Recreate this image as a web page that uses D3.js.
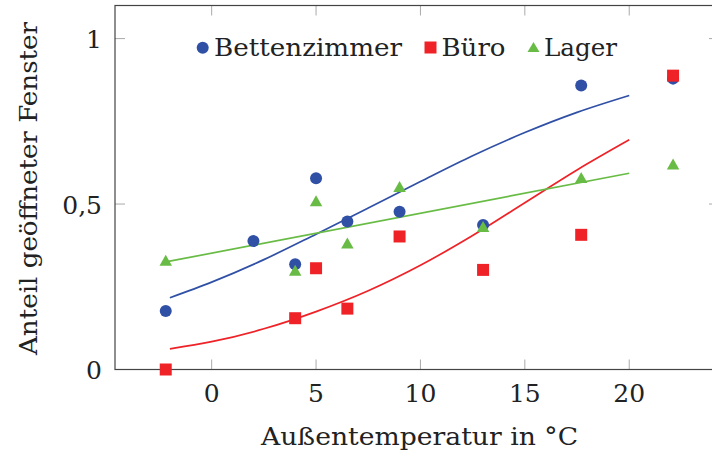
<!DOCTYPE html>
<html>
<head>
<meta charset="utf-8">
<script src="https://cdn.jsdelivr.net/npm/d3@7"></script>
<style>
  html, body { margin: 0; padding: 0; background: #fff; }
  svg { display: block; }
  text { fill: #222; }
</style>
</head>
<body>
<svg id="chart" width="712" height="451"></svg>
<script>
// ---- data ----
const temps = [-2.2, 2, 4, 5, 6.5, 9, 13, 17.7, 22.1];
const tempsNo2 = [-2.2, 4, 5, 6.5, 9, 13, 17.7, 22.1];
const bettenzimmer = [0.177, 0.388, 0.318, 0.578, 0.447, 0.477, 0.437, 0.858, 0.879];
const buero = [0.0, 0.155, 0.306, 0.184, 0.402, 0.301, 0.407, 0.888];
const lager = [0.33, 0.30, 0.51, 0.382, 0.553, 0.432, 0.58, 0.621];

const fitX = [-2, 0, 2.5, 5, 7.5, 10, 12.5, 15, 17.5, 20];
const bettenFit = [0.217, 0.264, 0.332, 0.409, 0.488, 0.568, 0.646, 0.716, 0.777, 0.828];
const bueroFit = [0.0625, 0.084, 0.123, 0.175, 0.238, 0.315, 0.405, 0.504, 0.603, 0.694];
const lagerFitX = [-2.2, 20];
const lagerFit = [0.325, 0.593];

const xTicks = [0, 5, 10, 15, 20];
const yTicks = [0, 0.5, 1];
const yTickLabels = ["0", "0,5", "1"];
const seriesNames = ["Bettenzimmer", "Büro", "Lager"];
const colors = ["#3050a6", "#ee2227", "#68bc45"];

const FONT = "'DejaVu Serif', serif";

// ---- scales ----
const svg = d3.select("#chart");
const x = d3.scaleLinear().domain([-4.63, 24.3]).range([115, 719]);
const y = d3.scaleLinear().domain([0, 1.1]).range([369.5, 5.5]);
const X0 = x.range()[0], X1 = x.range()[1], Y0 = y.range()[0], Y1 = y.range()[1];

// ---- ticks (inside, all four sides) ----
const tickLen = 10;
const tickG = svg.append("g").attr("stroke", "#aaa").attr("stroke-width", 1);
xTicks.forEach(t => {
  tickG.append("line").attr("x1", x(t)).attr("x2", x(t)).attr("y1", Y0).attr("y2", Y0 - tickLen);
  tickG.append("line").attr("x1", x(t)).attr("x2", x(t)).attr("y1", Y1).attr("y2", Y1 + tickLen);
});
yTicks.forEach(t => {
  tickG.append("line").attr("x1", X0).attr("x2", X0 + tickLen).attr("y1", y(t)).attr("y2", y(t));
  tickG.append("line").attr("x1", X1).attr("x2", X1 - tickLen).attr("y1", y(t)).attr("y2", y(t));
});

// frame
svg.append("rect").attr("x", X0).attr("y", Y1).attr("width", X1 - X0).attr("height", Y0 - Y1)
  .attr("fill", "none").attr("stroke", "#444").attr("stroke-width", 1.2);

// tick labels
svg.append("g").selectAll("text").data(xTicks).join("text")
  .attr("x", d => x(d)).attr("y", 402).attr("text-anchor", "middle")
  .attr("font-family", FONT).attr("font-size", 25).text(d => d);
svg.append("g").selectAll("text").data(yTicks).join("text")
  .attr("x", 102).attr("y", d => y(d) + 9.5).attr("text-anchor", "end")
  .attr("font-family", FONT).attr("font-size", 25).text((d, i) => yTickLabels[i]);

// axis titles
svg.append("text").attr("x", 261).attr("y", 445).attr("font-family", FONT).attr("font-size", 25)
  .attr("textLength", 317).attr("lengthAdjust", "spacingAndGlyphs").text("Außentemperatur in °C");
svg.append("text").attr("transform", "translate(37,355) rotate(-90)")
  .attr("font-family", FONT).attr("font-size", 25)
  .attr("textLength", 333).attr("lengthAdjust", "spacingAndGlyphs")
  .text("Anteil geöffneter Fenster");

// ---- fit lines ----
const line = d3.line().x(d => x(d[0])).y(d => y(d[1])).curve(d3.curveMonotoneX);
const fits = [
  [fitX, bettenFit, colors[0]],
  [fitX, bueroFit, colors[1]],
  [lagerFitX, lagerFit, colors[2]]
];
fits.forEach(([xs, ys, c]) => {
  svg.append("path").datum(xs.map((v, i) => [v, ys[i]]))
    .attr("d", line).attr("fill", "none").attr("stroke", c).attr("stroke-width", 1.7);
});

// ---- markers ----
const circleSym = d3.symbol().type(d3.symbolCircle).size(Math.PI * 36);
const squareSym = d3.symbol().type(d3.symbolSquare).size(12 * 12);
function triPath(cx, cy, w, h) {
  return `M${cx - w / 2},${cy + h / 2}L${cx + w / 2},${cy + h / 2}L${cx},${cy - h / 2}Z`;
}
svg.append("g").selectAll("path").data(temps.map((t, i) => [t, bettenzimmer[i]])).join("path")
  .attr("transform", d => `translate(${x(d[0])},${y(d[1])})`).attr("d", circleSym).attr("fill", colors[0]);
svg.append("g").selectAll("path").data(tempsNo2.map((t, i) => [t, buero[i]])).join("path")
  .attr("transform", d => `translate(${x(d[0])},${y(d[1])})`).attr("d", squareSym).attr("fill", colors[1]);
svg.append("g").selectAll("path").data(tempsNo2.map((t, i) => [t, lager[i]])).join("path")
  .attr("d", d => triPath(x(d[0]), y(d[1]), 12.5, 11)).attr("fill", colors[2]);

// ---- legend ----
const lg = svg.append("g");
lg.append("path").attr("transform", "translate(202.7,47.7)").attr("d", circleSym).attr("fill", colors[0]);
lg.append("text").attr("x", 214).attr("y", 56).attr("font-family", FONT).attr("font-size", 25)
  .attr("textLength", 188).attr("lengthAdjust", "spacingAndGlyphs").text(seriesNames[0]);
lg.append("path").attr("transform", "translate(430.5,47.5)").attr("d", squareSym).attr("fill", colors[1]);
lg.append("text").attr("x", 441.5).attr("y", 56).attr("font-family", FONT).attr("font-size", 25)
  .attr("textLength", 64).attr("lengthAdjust", "spacingAndGlyphs").text(seriesNames[1]);
lg.append("path").attr("d", triPath(533.5, 47, 12, 10)).attr("fill", colors[2]);
lg.append("text").attr("x", 544).attr("y", 56).attr("font-family", FONT).attr("font-size", 25)
  .attr("textLength", 73).attr("lengthAdjust", "spacingAndGlyphs").text(seriesNames[2]);
</script>
</body>
</html>
